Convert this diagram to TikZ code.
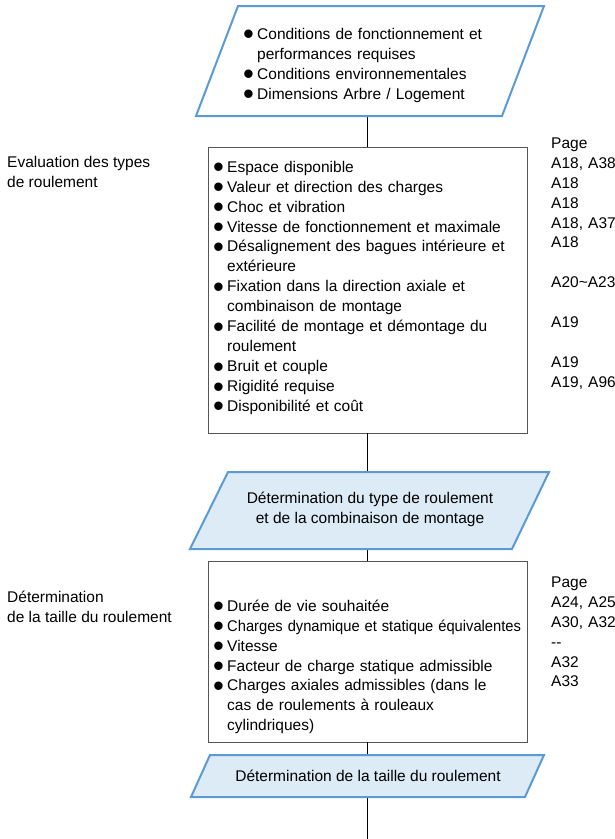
\documentclass[tikz,border=0pt]{standalone}
\usepackage{fontspec}
\setmainfont{Liberation Sans}
\usepackage{graphicx}
\definecolor{pblue}{RGB}{91,155,213}
\definecolor{pfill}{RGB}{221,235,247}
\definecolor{bgray}{RGB}{85,85,85}
\setlength\parskip{0pt}
\newcommand\bul{\raisebox{-5.4pt}{\scalebox{2.0}{\textbullet}}}
\newcommand\itm[1][14pt]{\par\hangindent=#1\hangafter=1\noindent\makebox[#1][l]{\smash{\bul}}\ignorespaces}
\newcommand\fst{\rule{0pt}{16pt}}
\begin{document}
\begin{tikzpicture}[x=1pt,y=-1pt,
  txt/.style={font=\fontsize{15.5}{19.95}\selectfont, inner sep=0pt},
  lst/.style={txt, anchor=north west, text width=370pt, align=left},
  para/.style={draw=pblue, line width=2pt, fill=pfill, line join=miter},
  boxx/.style={draw=bgray, line width=0.8pt, inner sep=0pt},
  conn/.style={line width=1.6pt, black}]
\useasboundingbox (0,0) rectangle (614,839);

% boxes
\node[boxx, minimum width=319pt, minimum height=286pt] (b1) at (367.5,290) {};
\node[boxx, minimum width=319pt, minimum height=181pt] (b2) at (367.5,651.5) {};

% connector end points on the parallelograms
\coordinate (p1s) at (367.5,116);
\coordinate (p2n) at (367.5,472);
\coordinate (p2s) at (367.5,549);
\coordinate (p3n) at (367.5,755);
\coordinate (p3s) at (367.5,797);
\coordinate (fin) at (367.5,839);

% connectors
\draw[conn] (p1s) -- (b1.north);
\draw[conn] (b1.south) -- (p2n);
\draw[conn] (p2s) -- (b2.north);
\draw[conn] (b2.south) -- (p3n);
\draw[conn] (p3s) -- (fin);

% parallelograms
\draw[para, fill=white] (238,6) -- (544,6) -- (502,116) -- (196,116) -- cycle;
\draw[para] (228,472) -- (549,472) -- (512,549) -- (190,549) -- cycle;
\draw[para] (210,755) -- (544,755) -- (525,797) -- (191,797) -- cycle;

% top list
\node[lst] (t1) at (243,19) {\itm\fst Conditions de fonctionnement et\newline performances requises
\itm Conditions environnementales
\itm Dimensions Arbre / Logement\par};

% box 1 list
\node[lst] (l1) at (213,152) {\itm\fst Espace disponible
\itm Valeur et direction des charges
\itm Choc et vibration
\itm Vitesse de fonctionnement et maximale
\itm Désalignement des bagues intérieure et\newline extérieure
\itm Fixation dans la direction axiale et\newline combinaison de montage
\itm Facilité de montage et démontage du\newline roulement
\itm Bruit et couple
\itm Rigidité requise
\itm Disponibilité et coût\par};

% box 1 pages
\node[lst, text width=70pt] (pg1) at (551,132) {\fst Page\\A18, A38\\A18\\A18\\A18, A37\\A18\\\mbox{}\\A20\textasciitilde A23\\\mbox{}\\A19\\\mbox{}\\A19\\A19, A96};

% left labels
\node[txt, anchor=base west] (lab1a) at (7,167) {Evaluation des types};
\node[txt, anchor=base west] (lab1b) at (7,187) {de roulement};
\node[txt, anchor=base west] (lab2a) at (7,602) {Détermination};
\node[txt, anchor=base west] (lab2b) at (7,622) {de la taille du roulement};

% decision 1
\node[txt, align=center, anchor=base] (d1) at (370,523) {Détermination du type de roulement\\et de la combinaison de montage};

% box 2 list
\node[lst] (l2) at (213,591) {\itm\fst Durée de vie souhaitée
\itm \scalebox{0.95}[1]{Charges dynamique et statique équivalentes}
\itm Vitesse
\itm Facteur de charge statique admissible
\itm Charges axiales admissibles (dans le\newline cas de roulements à rouleaux\newline cylindriques)\par};

% box 2 pages
\node[lst, text width=70pt] (pg2) at (551,571) {\fst Page\\A24, A25\\A30, A32\\{-}{-}\\A32\\A33};

% decision 2
\node[txt, anchor=base] (d2) at (368,781) {Détermination de la taille du roulement};
\end{tikzpicture}
\end{document}
